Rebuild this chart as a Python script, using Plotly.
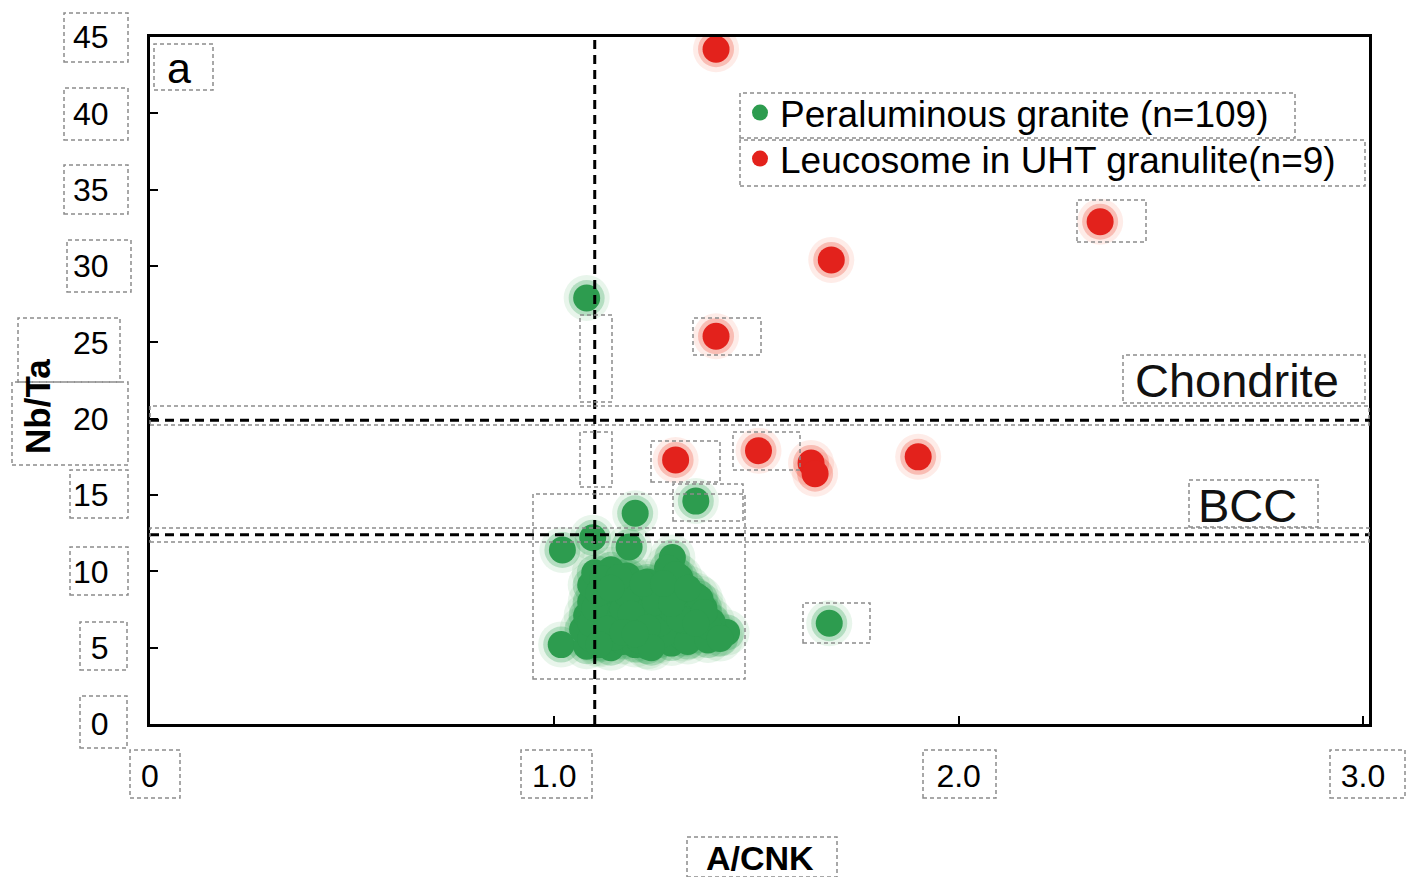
import plotly.graph_objects as go

# ---------------- data ----------------
granite_x = [
    1.08, 1.35, 1.20, 1.095, 1.02, 1.185, 1.017, 1.68, 1.426, 1.292,
    1.08, 1.11, 1.14, 1.17, 1.20, 1.23, 1.26, 1.29, 1.32, 1.35,
    1.07, 1.10, 1.13, 1.16, 1.19, 1.22, 1.25, 1.28, 1.31, 1.34, 1.37, 1.40,
    1.08, 1.12, 1.15, 1.18, 1.21, 1.24, 1.27, 1.30, 1.33, 1.36, 1.39,
    1.09, 1.12, 1.16, 1.19, 1.22, 1.25, 1.28, 1.31, 1.34, 1.37,
    1.09, 1.13, 1.17, 1.20, 1.26, 1.29, 1.32, 1.35,
    1.10, 1.14, 1.18, 1.28, 1.31,
    1.09, 1.15, 1.21, 1.27, 1.33, 1.38,
    1.09, 1.14, 1.20, 1.26, 1.32, 1.38,
    1.10, 1.17, 1.23, 1.29, 1.35,
    1.11, 1.18, 1.24, 1.30, 1.36,
    1.12, 1.16, 1.23, 1.30,
    1.13, 1.19, 1.25, 1.31, 1.37,
    1.11, 1.17, 1.23, 1.29, 1.35, 1.41,
    1.14, 1.22, 1.27, 1.33, 1.24, 1.20,
]
granite_y = [
    27.9, 14.6, 13.8, 12.2, 11.4, 11.6, 5.2, 6.6, 6.0, 10.9,
    5.1, 5.3, 5.0, 5.4, 5.2, 5.1, 5.5, 5.3, 5.6, 5.8,
    6.2, 5.9, 6.4, 6.0, 6.3, 6.1, 5.8, 6.5, 6.2, 6.0, 6.3, 5.9,
    7.1, 6.8, 7.3, 7.0, 6.9, 7.4, 7.2, 6.8, 7.1, 7.0, 6.7,
    8.0, 8.3, 7.8, 8.1, 8.4, 7.9, 8.2, 8.0, 7.7, 7.6,
    9.1, 8.8, 9.3, 8.9, 9.0, 9.4, 8.7, 8.4,
    9.9, 10.1, 9.7, 10.2, 9.6,
    5.6, 5.7, 5.5, 5.9, 5.4, 5.5,
    6.6, 6.5, 6.7, 6.6, 6.8, 6.4,
    7.6, 7.5, 7.7, 7.5, 7.4,
    8.6, 8.5, 8.7, 8.5, 8.2,
    9.5, 9.6, 9.3, 9.8,
    6.2, 7.2, 8.0, 6.9, 7.3,
    5.2, 6.0, 6.3, 7.9, 6.6, 5.6,
    8.9, 9.2, 9.2, 8.9, 5.0, 5.9,
]
leucosome_x = [1.40, 2.35, 1.685, 1.40, 1.30, 1.505, 1.635, 1.645, 1.90]
leucosome_y = [44.2, 32.9, 30.4, 25.4, 17.3, 17.9, 17.1, 16.4, 17.5]

granite_name = "Peraluminous granite (n=109)"
leucosome_name = "Leucosome in UHT granulite(n=9)"

acnk_line = 1.1          # A/CNK = 1.1 divider
chondrite_nbta = 19.9    # chondrite Nb/Ta
bcc_nbta = 12.4          # bulk continental crust Nb/Ta

x_tickvals = [0, 1.0, 2.0, 3.0]
x_ticktext = ["0", "1.0", "2.0", "3.0"]
y_tickvals = [0, 5, 10, 15, 20, 25, 30, 35, 40, 45]
y_ticktext = ["0", "5", "10", "15", "20", "25", "30", "35", "40", "45"]

# ---------------- layout geometry ----------------
W, H = 1408, 877
L, R, T, B = 150, 1369, 37, 724

def px_x(p):
    return (p - L) / (R - L)

def px_y(p):
    return (B - p) / (B - T)

GREEN = "#2d9c4f"
GREEN_HALO1 = "rgba(60,170,95,0.30)"
GREEN_HALO2 = "rgba(90,185,115,0.14)"
RED = "#e3221c"
RED_HALO1 = "rgba(238,80,60,0.30)"
RED_HALO2 = "rgba(245,120,90,0.14)"

fig = go.Figure()

# halos (soft glow)
for sz, cg, cr in [(46, GREEN_HALO2, RED_HALO2), (36, GREEN_HALO1, RED_HALO1)]:
    fig.add_trace(go.Scatter(x=granite_x, y=granite_y, mode="markers",
                             marker=dict(size=sz, color=cg, line=dict(width=0)),
                             showlegend=False, hoverinfo="skip"))
    fig.add_trace(go.Scatter(x=leucosome_x, y=leucosome_y, mode="markers",
                             marker=dict(size=sz, color=cr, line=dict(width=0)),
                             showlegend=False, hoverinfo="skip"))
# cores
fig.add_trace(go.Scatter(x=granite_x, y=granite_y, mode="markers", name=granite_name,
                         marker=dict(size=27, color=GREEN, line=dict(width=0)),
                         legend="legend"))
fig.add_trace(go.Scatter(x=leucosome_x, y=leucosome_y, mode="markers", name=leucosome_name,
                         marker=dict(size=27, color=RED, line=dict(width=0)),
                         legend="legend2"))

shapes = []
black_dash = dict(color="black", width=3, dash="9px,6px")
shapes.append(dict(type="line", xref="x", yref="paper", x0=acnk_line, x1=acnk_line,
                   y0=0, y1=1, line=black_dash, layer="above"))
shapes.append(dict(type="line", xref="paper", yref="y", x0=0, x1=1,
                   y0=chondrite_nbta, y1=chondrite_nbta, line=black_dash, layer="above"))
shapes.append(dict(type="line", xref="paper", yref="y", x0=0, x1=1,
                   y0=bcc_nbta, y1=bcc_nbta, line=black_dash, layer="above"))

# dotted OCR-style boxes (pixel rectangles)
boxes = [
    (64, 13, 128, 62), (64, 88, 128, 140), (64, 165, 128, 214), (67, 240, 131, 292),
    (18, 318, 120, 382), (12, 382, 128, 465), (70, 470, 128, 518), (70, 547, 128, 595),
    (80, 622, 127, 670), (80, 696, 127, 748),
    (130, 750, 180, 798), (521, 750, 592, 798), (923, 750, 996, 798), (1330, 750, 1405, 798),
    (687, 837, 837, 877),
    (154, 44, 213, 90),
    (740, 93, 1295, 138), (740, 140, 1365, 186),
    (1123, 355, 1365, 403), (1189, 480, 1318, 527),
    (150, 406, 1369, 425), (150, 528, 1369, 542),
    (1077, 200, 1146, 242), (693, 318, 761, 355), (651, 441, 720, 482), (733, 432, 800, 470),
    (673, 484, 743, 521), (533, 494, 745, 679), (803, 603, 870, 643),
    (580, 315, 612, 402), (580, 432, 612, 487),
]
for (a, b, c, d) in boxes:
    shapes.append(dict(type="rect", xref="paper", yref="paper",
                       x0=px_x(a), x1=px_x(c), y0=px_y(d), y1=px_y(b),
                       line=dict(color="#8c8c8c", width=1.5, dash="4px,3px"),
                       fillcolor="rgba(0,0,0,0)", layer="above"))

annotations = [
    dict(text="a", xref="paper", yref="paper", x=px_x(179), y=px_y(68),
         xanchor="center", yanchor="middle", showarrow=False,
         font=dict(family="Liberation Sans, Arial", size=43, color="black")),
    dict(text="Chondrite", xref="paper", yref="paper", x=px_x(1237), y=px_y(380),
         xanchor="center", yanchor="middle", showarrow=False,
         font=dict(family="Liberation Sans, Arial", size=47, color="#111")),
    dict(text="BCC", xref="paper", yref="paper", x=px_x(1247), y=px_y(505),
         xanchor="center", yanchor="middle", showarrow=False,
         font=dict(family="Liberation Sans, Arial", size=47, color="#111")),
    dict(text="<b>A/CNK</b>", xref="paper", yref="paper", x=px_x(760), y=px_y(858),
         xanchor="center", yanchor="middle", showarrow=False,
         font=dict(family="Liberation Sans, Arial", size=34, color="black")),
    dict(text="<b>Nb/Ta</b>", xref="paper", yref="paper", x=px_x(37), y=px_y(407),
         xanchor="center", yanchor="middle", showarrow=False, textangle=-90,
         font=dict(family="Liberation Sans, Arial", size=35, color="black")),
]

legend_font = dict(family="Liberation Sans, Arial", size=37, color="black")

fig.update_layout(
    width=W, height=H,
    margin=dict(l=L, r=W - R, t=T, b=H - B, pad=0, autoexpand=False),
    paper_bgcolor="white", plot_bgcolor="white",
    showlegend=True,
    legend=dict(x=px_x(740), y=px_y(113), xanchor="left", yanchor="middle",
                font=legend_font, bgcolor="rgba(0,0,0,0)", itemsizing="trace",
                borderwidth=0),
    legend2=dict(x=px_x(740), y=px_y(159), xanchor="left", yanchor="middle",
                 font=legend_font, bgcolor="rgba(0,0,0,0)", itemsizing="trace",
                 borderwidth=0),
    shapes=shapes,
    annotations=annotations,
    xaxis=dict(range=[0, 3.015], tickvals=x_tickvals, ticktext=x_ticktext,
               ticks="inside", ticklen=8, tickwidth=2, tickcolor="black",
               showline=True, linecolor="black", linewidth=3, mirror=True,
               showgrid=False, zeroline=False, ticklabelstandoff=22,
               tickfont=dict(family="Liberation Sans, Arial", size=32, color="black")),
    yaxis=dict(range=[0, 45], tickvals=y_tickvals, ticktext=y_ticktext,
               ticks="inside", ticklen=8, tickwidth=2, tickcolor="black",
               showline=True, linecolor="black", linewidth=3, mirror=True,
               showgrid=False, zeroline=False, ticklabelstandoff=32,
               tickfont=dict(family="Liberation Sans, Arial", size=32, color="black")),
)

fig.write_html("out.html")
